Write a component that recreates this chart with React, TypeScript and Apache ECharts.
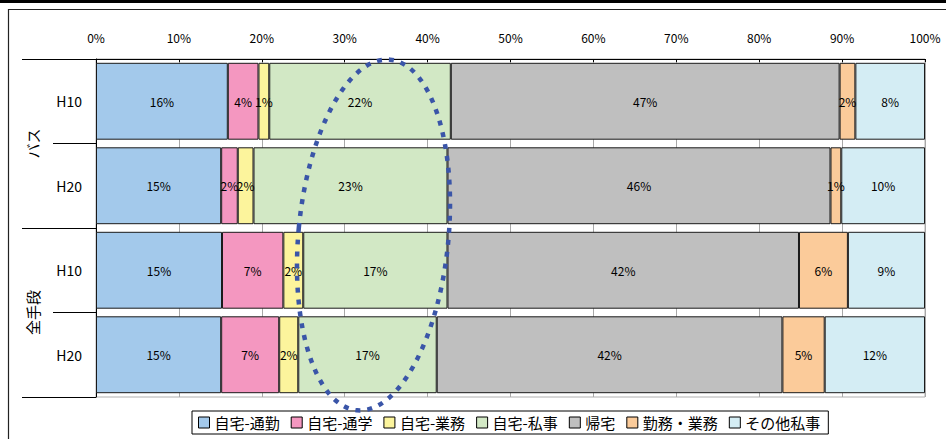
import React, { useEffect, useRef } from "react";
import * as echarts from "echarts";

// Trip purpose shares (%) by mode and survey year
const categories = ["H10", "H20", "H10", "H20"];
const groups = ["バス", "全手段"];
const purposes = ["自宅-通勤", "自宅-通学", "自宅-業務", "自宅-私事", "帰宅", "勤務・業務", "その他私事"];
const xTicks = [0, 10, 20, 30, 40, 50, 60, 70, 80, 90, 100];

const homeCommute = [15.9, 15.1, 15.2, 15.1];
const homeSchool = [3.7, 2.0, 7.4, 7.0];
const homeBusiness = [1.3, 1.9, 2.4, 2.3];
const homePrivate = [21.9, 23.4, 17.4, 16.7];
const returnHome = [46.9, 46.2, 42.4, 41.7];
const workBusiness = [1.9, 1.3, 5.9, 5.1];
const otherPrivate = [8.4, 10.1, 9.3, 12.1];

const seriesValues = [homeCommute, homeSchool, homeBusiness, homePrivate, returnHome, workBusiness, otherPrivate];
const colors = ["#A3C9EB", "#F497C0", "#FCF49C", "#D2E8C5", "#BFBFBF", "#FBCB9A", "#D4EDF4"];

const FONT = "'Noto Sans CJK JP', 'Noto Sans', sans-serif";

export default function App() {
  const ref = useRef<HTMLDivElement>(null);

  useEffect(() => {
    document.body.style.margin = "0";
    if (!ref.current) return;
    const chart = echarts.init(ref.current, undefined, { renderer: "svg" });

    const series = purposes.map((name, i) => ({
      name,
      type: "bar",
      stack: "total",
      barCategoryGap: "9%",
      data: seriesValues[i],
      itemStyle: { color: colors[i], borderColor: "#1a1a1a", borderWidth: 1 },
      label: {
        show: true,
        position: "inside",
        color: "#000",
        fontSize: 12,
        fontFamily: FONT,
        formatter: (p: any) => `${Math.round(p.value)}%`,
      },
    }));

    chart.setOption({
      animation: false,
      textStyle: { fontFamily: FONT },
      grid: {
        left: 96,
        right: 21,
        top: 59,
        bottom: 42,
        show: true,
        borderColor: "#b0b0b0",
        borderWidth: 1,
      },
      xAxis: {
        type: "value",
        position: "top",
        min: xTicks[0],
        max: xTicks[xTicks.length - 1],
        interval: 10,
        axisLine: { show: true, lineStyle: { color: "#000", width: 1 } },
        axisTick: { show: true, inside: true, length: 3, lineStyle: { color: "#000" } },
        axisLabel: { formatter: "{value}%", color: "#000", fontSize: 12, margin: 16, fontFamily: FONT },
        splitLine: { show: true, lineStyle: { color: "#a8a8a8", width: 1 } },
      },
      yAxis: [
        {
          type: "category",
          data: categories,
          inverse: true,
          position: "left",
          axisLine: { show: true, lineStyle: { color: "#000", width: 1 } },
          axisTick: { show: true, length: 43, lineStyle: { color: "#000" } },
          axisLabel: { color: "#000", fontSize: 14, margin: 14, fontFamily: FONT },
        },
        {
          type: "category",
          data: groups,
          inverse: true,
          position: "left",
          axisLine: { show: false },
          axisTick: { show: true, length: 74, lineStyle: { color: "#000" } },
          axisLabel: { color: "#000", fontSize: 15, rotate: 90, margin: 56, fontFamily: FONT },
        },
      ],
      legend: {
        data: purposes,
        left: 192,
        top: 411,
        selectedMode: false,
        icon: "rect",
        itemWidth: 11,
        itemHeight: 11,
        itemGap: 11,
        padding: [4, 8, 4, 6],
        borderColor: "#000",
        borderWidth: 1,
        itemStyle: { borderColor: "#000", borderWidth: 1 },
        textStyle: { color: "#000", fontSize: 15, fontFamily: FONT },
      },
      graphic: [
        { type: "rect", x: 0, y: 0, shape: { width: 946, height: 3 }, style: { fill: "#000" }, silent: true },
        { type: "line", shape: { x1: 8, y1: 9.5, x2: 946, y2: 9.5 }, style: { stroke: "#222", lineWidth: 1.2 }, silent: true },
        { type: "line", shape: { x1: 8.5, y1: 9, x2: 8.5, y2: 439 }, style: { stroke: "#222", lineWidth: 1.2 }, silent: true },
        {
          type: "ellipse",
          x: 373.5,
          y: 235,
          rotation: -0.094,
          shape: { cx: 0, cy: 0, rx: 75, ry: 176 },
          style: { fill: "none", stroke: "#3A55A8", lineWidth: 4.5, lineDash: [5, 7] },
          z: 100,
          silent: true,
        },
      ],
      series,
    });

    return () => chart.dispose();
  }, []);

  return <div ref={ref} style={{ width: 946, height: 439 }} />;
}
